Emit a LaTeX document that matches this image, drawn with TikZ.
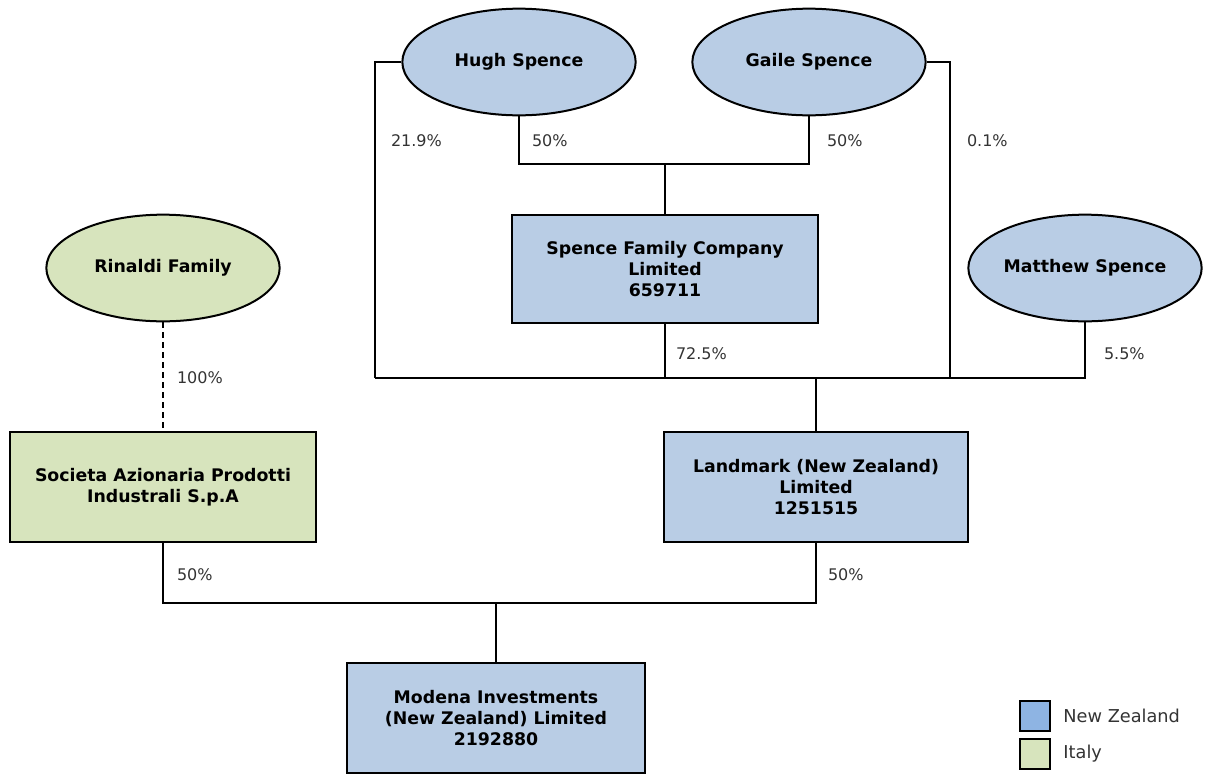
\documentclass[tikz,border=0pt]{standalone}
\usepackage{fontspec}
\setmainfont{DejaVu Sans}
\usetikzlibrary{shapes.geometric}

\definecolor{nzfill}{HTML}{B9CDE5}
\definecolor{itfill}{HTML}{D7E4BD}
\definecolor{nzkey}{HTML}{8EB4E3}
\definecolor{pctgray}{HTML}{333333}

\begin{document}
\begin{tikzpicture}[x=0.75pt, y=-0.75pt, line width=1.5pt,
    person/.style={ellipse, draw, inner sep=0pt, minimum width=175pt, minimum height=80pt,
        font=\bfseries\fontsize{13}{16}\selectfont},
    company/.style={rectangle, draw, align=center, inner sep=0pt,
        font=\bfseries\fontsize{13}{16}\selectfont},
    pct/.style={anchor=west, text=pctgray, inner sep=0pt, font=\fontsize{12}{14}\selectfont},
    keybox/.style={rectangle, draw, minimum size=22pt, inner sep=0pt}]
    \useasboundingbox (0,0) rectangle (1205,775);

    % 个人股东
    \node[person, fill=nzfill] (hugh) at (519,62) {Hugh Spence};
    \node[person, fill=nzfill] (gaile) at (809,62) {Gaile Spence};
    \node[person, fill=nzfill] (matthew) at (1085,268) {Matthew Spence};
    \node[person, fill=itfill] (rinaldi) at (163,268) {Rinaldi Family};

    % 公司
    \node[company, fill=nzfill, minimum width=229.5pt, minimum height=81pt] (sfc) at (665,269)
        {Spence Family Company\\Limited\\659711};
    \node[company, fill=nzfill, minimum width=228pt, minimum height=82.5pt] (landmark) at (816,487)
        {Landmark (New Zealand)\\Limited\\1251515};
    \node[company, fill=itfill, minimum width=229.5pt, minimum height=82.5pt] (societa) at (163,487)
        {Societa Azionaria Prodotti\\Industrali S.p.A};
    \node[company, fill=nzfill, minimum width=223.5pt, minimum height=82pt] (modena) at (496,718)
        {Modena Investments\\(New Zealand) Limited\\2192880};

    % 连接点
    \coordinate (jtop) at (665,164);
    \coordinate (jleft) at (375,378);
    \coordinate (jright) at (950,378);
    \coordinate (jbot) at (496,603);

    % Spence 家族持股
    \draw (hugh.south) |- (jtop) -| (gaile.south);
    \draw (jtop) -- (sfc.north);
    \draw (hugh.west) -| (jleft);
    \draw (gaile.east) -| (jright);
    \draw (matthew.south) |- (jright);
    \draw (sfc.south) -- (sfc.south |- jleft);
    \draw (jleft) -- (jright);
    \draw (landmark.north |- jleft) -- (landmark.north);

    % Rinaldi 持股
    \draw[dash pattern=on 4.5pt off 3pt] (rinaldi.south) -- (societa.north);

    % 合资
    \draw (societa.south) |- (jbot) -| (landmark.south);
    \draw (jbot) -- (modena.north);

    % 百分比
    \node[pct] (p1) at (390,141) {21.9\%};
    \node[pct] (p2) at (531,141) {50\%};
    \node[pct] (p3) at (826,141) {50\%};
    \node[pct] (p4) at (966,141) {0.1\%};
    \node[pct] (p5) at (675,354) {72.5\%};
    \node[pct] (p6) at (1103,354) {5.5\%};
    \node[pct] (p7) at (176,378) {100\%};
    \node[pct] (p8) at (176,575) {50\%};
    \node[pct] (p9) at (827,575) {50\%};

    % 图例
    \node[keybox, fill=nzkey] (knz) at (1035,716) {};
    \node[keybox, fill=itfill] (kit) at (1035,754) {};
    \node[anchor=west, text=pctgray, font=\fontsize{13.3}{16}\selectfont] (lnz) at (1058,716) {New Zealand};
    \node[anchor=west, text=pctgray, font=\fontsize{13.3}{16}\selectfont] (lit) at (1058,754) {Italy};
\end{tikzpicture}
\end{document}
